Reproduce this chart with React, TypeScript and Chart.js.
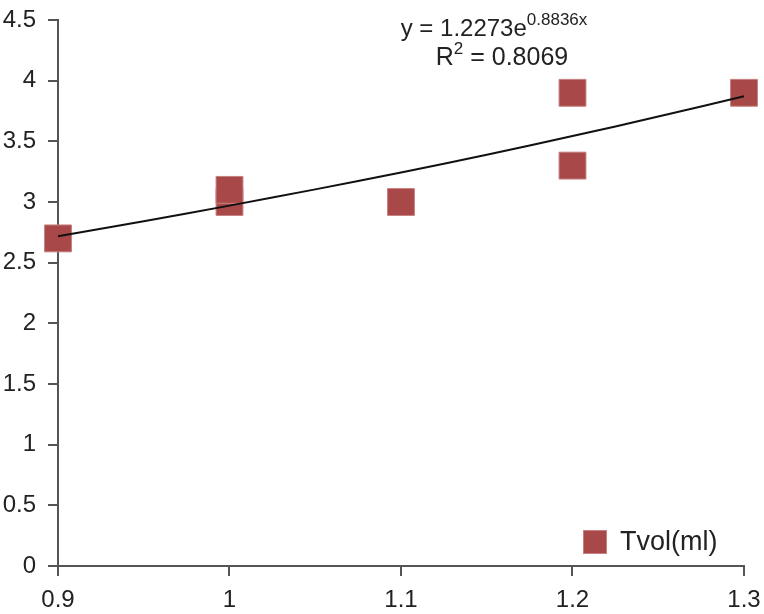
import React, { useEffect, useRef } from "react";
import { Chart, registerables } from "chart.js";

Chart.register(...registerables);

const seriesName = "Tvol(ml)";
const xValues = [0.9, 1.0, 1.0, 1.1, 1.2, 1.2, 1.3];
const yValues = [2.7, 3.0, 3.1, 3.0, 3.3, 3.9, 3.9];

const trendX = [0.9, 0.95, 1.0, 1.05, 1.1, 1.15, 1.2, 1.25, 1.3];
const trendY = [2.718, 2.841, 2.97, 3.104, 3.244, 3.39, 3.544, 3.704, 3.871];

const eqMain = "y = 1.2273e";
const eqExp = "0.8836x";
const r2Label = "R";
const r2Sup = "2";
const r2Value = " = 0.8069";

const yTicks = { min: 0, max: 4.5, step: 0.5 };
const xTicks = { min: 0.9, max: 1.3, step: 0.1 };

const FONT = '"Liberation Sans", Arial, Helvetica, sans-serif';
const TEXT = "#222222";
const AXIS = "#555555";
const FILL = "#A94848";
const EDGE = "#C68080";

const fmt = (v: any) => String(Number(Number(v).toFixed(1)));

const overlay = {
  id: "overlay",
  afterDraw(chart: any) {
    const ctx = chart.ctx;
    ctx.save();
    ctx.fillStyle = TEXT;
    ctx.textBaseline = "alphabetic";
    ctx.textAlign = "left";
    // equation line 1
    ctx.font = `24px ${FONT}`;
    const w1 = ctx.measureText(eqMain).width;
    ctx.font = `17px ${FONT}`;
    const w2 = ctx.measureText(eqExp).width;
    let x = 494 - (w1 + w2) / 2;
    ctx.font = `24px ${FONT}`;
    ctx.fillText(eqMain, x, 36);
    ctx.font = `17px ${FONT}`;
    ctx.fillText(eqExp, x + w1, 25);
    // line 2
    ctx.font = `25px ${FONT}`;
    const a = ctx.measureText(r2Label).width;
    const c = ctx.measureText(r2Value).width;
    ctx.font = `17px ${FONT}`;
    const b = ctx.measureText(r2Sup).width;
    x = 502 - (a + b + c) / 2;
    ctx.font = `25px ${FONT}`;
    ctx.fillText(r2Label, x, 65);
    ctx.font = `17px ${FONT}`;
    ctx.fillText(r2Sup, x + a, 54);
    ctx.font = `25px ${FONT}`;
    ctx.fillText(r2Value, x + a + b, 65);
    // legend
    ctx.fillStyle = FILL;
    ctx.strokeStyle = EDGE;
    ctx.lineWidth = 1;
    ctx.fillRect(583, 530, 24, 24);
    ctx.strokeRect(583.5, 530.5, 23, 23);
    ctx.fillStyle = TEXT;
    ctx.font = `27px ${FONT}`;
    ctx.textBaseline = "middle";
    ctx.fillText(seriesName, 620, 543);
    ctx.restore();
  },
};

export default function App() {
  const ref = useRef<HTMLCanvasElement>(null);
  useEffect(() => {
    document.body.style.margin = "0";
    const chart = new Chart(ref.current!, {
      type: "scatter",
      data: {
        datasets: [
          {
            label: "trend",
            type: "line",
            data: trendX.map((x, i) => ({ x, y: trendY[i] })),
            borderColor: "#111111",
            borderWidth: 2,
            pointRadius: 0,
            tension: 0.4,
            fill: false,
            clip: false,
            order: 0,
          } as any,
          {
            label: seriesName,
            data: xValues.map((x, i) => ({ x, y: yValues[i] })),
            pointStyle: "rect",
            pointRadius: 19,
            pointHoverRadius: 19,
            backgroundColor: FILL,
            borderColor: EDGE,
            borderWidth: 1,
            clip: false,
            order: 1,
          } as any,
        ],
      },
      options: {
        animation: false,
        responsive: false,
        layout: { padding: { top: 15, right: 17, left: 0, bottom: 0 } },
        plugins: { legend: { display: false }, tooltip: { enabled: false } },
        scales: {
          x: {
            type: "linear",
            min: xTicks.min,
            max: xTicks.max,
            ticks: {
              stepSize: xTicks.step,
              color: TEXT,
              font: { family: FONT, size: 24 },
              padding: 10,
              callback: fmt,
            },
            grid: { drawOnChartArea: false, drawTicks: true, tickLength: 10, color: AXIS, lineWidth: 2 },
            border: { display: true, color: AXIS, width: 2 },
            afterFit: (s: any) => {
              s.height = 48;
              s.paddingLeft = 0;
              s.paddingRight = 0;
            },
          },
          y: {
            type: "linear",
            min: yTicks.min,
            max: yTicks.max,
            ticks: {
              stepSize: yTicks.step,
              color: TEXT,
              font: { family: FONT, size: 24 },
              padding: 12,
              callback: fmt,
            },
            grid: { drawOnChartArea: false, drawTicks: true, tickLength: 10, color: AXIS, lineWidth: 2 },
            border: { display: true, color: AXIS, width: 2 },
            afterFit: (s: any) => {
              s.width = 58;
              s.paddingTop = 0;
              s.paddingBottom = 0;
            },
          },
        },
      },
      plugins: [overlay],
    });
    return () => chart.destroy();
  }, []);
  return (
    <div style={{ width: 764, height: 614 }}>
      <canvas ref={ref} width={764} height={614} style={{ display: "block" }} />
    </div>
  );
}
